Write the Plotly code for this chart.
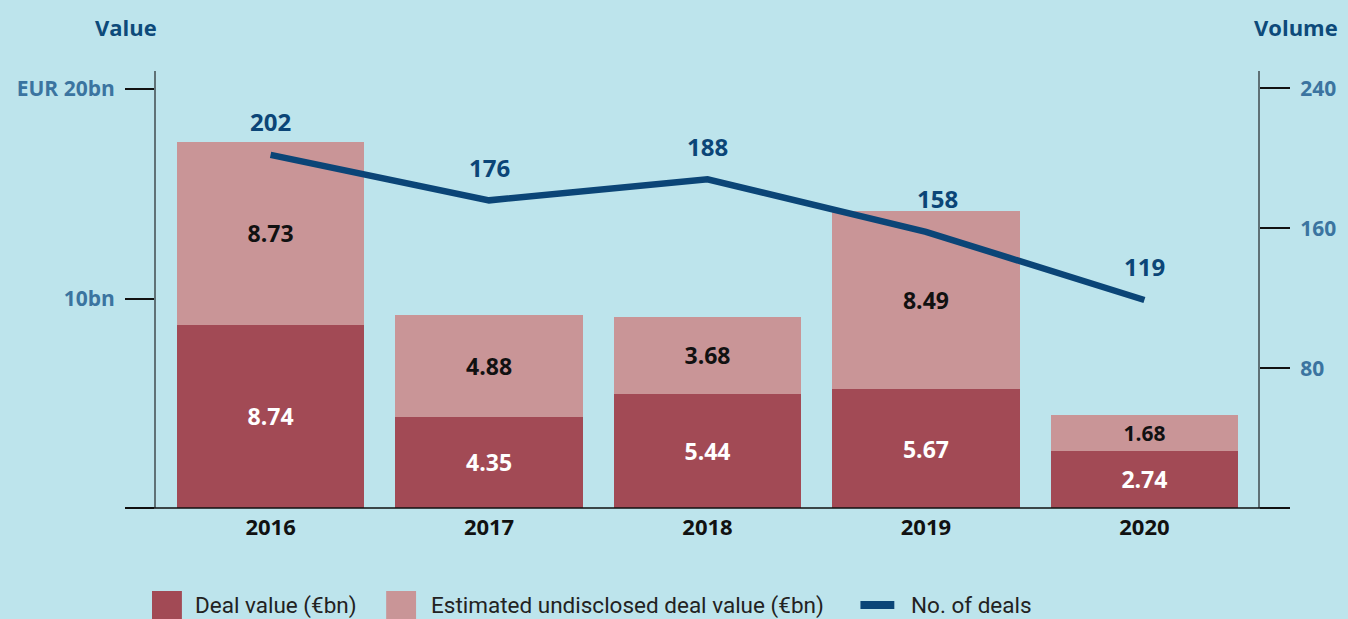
import plotly.graph_objects as go

years = ["2016", "2017", "2018", "2019", "2020"]
deal_value = [8.74, 4.35, 5.44, 5.67, 2.74]
undisclosed_value = [8.73, 4.88, 3.68, 8.49, 1.68]
num_deals = [202, 176, 188, 158, 119]

left_tickvals = [0, 10, 20]
left_ticktext = ["", "10bn", "EUR 20bn"]
right_tickvals = [0, 80, 160, 240]
right_ticktext = ["", "80", "160", "240"]

name_deal = "Deal value (€bn)"
name_undisc = "Estimated undisclosed deal value (€bn)"
name_deals = "No. of deals"

BG = "#bde4ec"
DARK = "#a24a55"
LIGHT = "#c99597"
NAVY = "#0b4577"
TICKBLUE = "#3b74a0"
FONT = "Open Sans, Noto Sans, sans-serif"
LFONT = "Liberation Sans Narrow, Roboto, sans-serif"

fig = go.Figure()
fig.add_trace(go.Bar(
    x=years, y=deal_value, name=name_deal, marker=dict(color=DARK, line=dict(width=0)),
    text=[f"{v:.2f}" for v in deal_value], textposition="inside", insidetextanchor="middle",
    textfont=dict(color="white", size=23, family=FONT, weight="bold"), width=0.857,
    showlegend=False,
))
fig.add_trace(go.Bar(
    x=years, y=undisclosed_value, name=name_undisc, marker=dict(color=LIGHT, line=dict(width=0)),
    text=[f"{v:.2f}" for v in undisclosed_value], textposition="inside", insidetextanchor="middle",
    textfont=dict(color="#111111", size=23, family=FONT, weight="bold"), width=0.857,
    showlegend=False,
))
fig.add_trace(go.Scatter(
    x=years, y=num_deals, name=name_deals, mode="lines", yaxis="y2",
    line=dict(color=NAVY, width=6.5), showlegend=False, cliponaxis=False,
))

# line labels
for i, v in enumerate(num_deals):
    fig.add_annotation(x=i, y=v, xref="x", yref="y2", text=str(v), showarrow=False,
                       yshift=33, xshift=(12 if i == 3 else 0),
                       font=dict(color=NAVY, size=24, family=FONT, weight="bold"))

def px(x):
    return (x - 156) / 1106

def py(y):
    return (508 - y) / 437

# axis titles
fig.add_annotation(xref="paper", yref="paper", x=px(126), y=py(27), xanchor="center", yanchor="middle",
                   text="Value", showarrow=False,
                   font=dict(color="#0d4a7a", size=22, family=FONT, weight="bold"))
fig.add_annotation(xref="paper", yref="paper", x=px(1300), y=py(27), xanchor="center", yanchor="middle",
                   text="Volume", showarrow=False,
                   font=dict(color="#0d4a7a", size=22, family=FONT, weight="bold"))

shapes = []
# baseline
shapes.append(dict(type="line", xref="paper", yref="paper", x0=px(127), x1=px(1292), y0=0, y1=0,
                   line=dict(color="#111111", width=1.5)))
# legend keys
shapes.append(dict(type="rect", xref="paper", yref="paper", x0=px(152), x1=px(182), y0=py(591), y1=py(622),
                   fillcolor=DARK, line=dict(width=0)))
shapes.append(dict(type="rect", xref="paper", yref="paper", x0=px(387), x1=px(417), y0=py(591), y1=py(622),
                   fillcolor=LIGHT, line=dict(width=0)))
shapes.append(dict(type="line", xref="paper", yref="paper", x0=px(863), x1=px(897), y0=py(605), y1=py(605),
                   line=dict(color=NAVY, width=8)))
fig.update_layout(shapes=shapes)

for x0, label in [(193, name_deal), (430, name_undisc), (912, name_deals)]:
    fig.add_annotation(xref="paper", yref="paper", x=px(x0), y=py(605), xanchor="left", yanchor="middle",
                       text=label, showarrow=False,
                       font=dict(color="#222222", size=22.5, family=LFONT))

fig.update_layout(
    width=1348, height=619,
    paper_bgcolor=BG, plot_bgcolor=BG,
    barmode="stack",
    margin=dict(l=156, r=86, t=71, b=111),
    showlegend=False,
    xaxis=dict(type="category", range=[-0.5245, 4.52], showgrid=False, zeroline=False, showline=False,
               ticks="", tickfont=dict(color="#111111", size=22, family=FONT, weight="bold"),
               ticklabelstandoff=4),
    yaxis=dict(range=[0, 20.86], tickvals=left_tickvals, ticktext=left_ticktext,
               showgrid=False, zeroline=False, showline=True, linecolor="#5f7176", linewidth=2,
               ticks="outside", ticklen=29, tickcolor="#111111", tickwidth=1.5, ticklabelstandoff=6,
               tickfont=dict(color=TICKBLUE, size=21, family=FONT, weight="bold")),
    yaxis2=dict(range=[0, 250], tickvals=right_tickvals, ticktext=right_ticktext,
                overlaying="y", side="right",
                showgrid=False, zeroline=False, showline=True, linecolor="#5f7176", linewidth=2,
                ticks="outside", ticklen=30, tickcolor="#111111", tickwidth=1.5, ticklabelstandoff=6,
                tickfont=dict(color=TICKBLUE, size=21, family=FONT, weight="bold")),
)

fig.write_html("out.html", config={"displayModeBar": False},
               post_script="document.body.style.margin='0';")
